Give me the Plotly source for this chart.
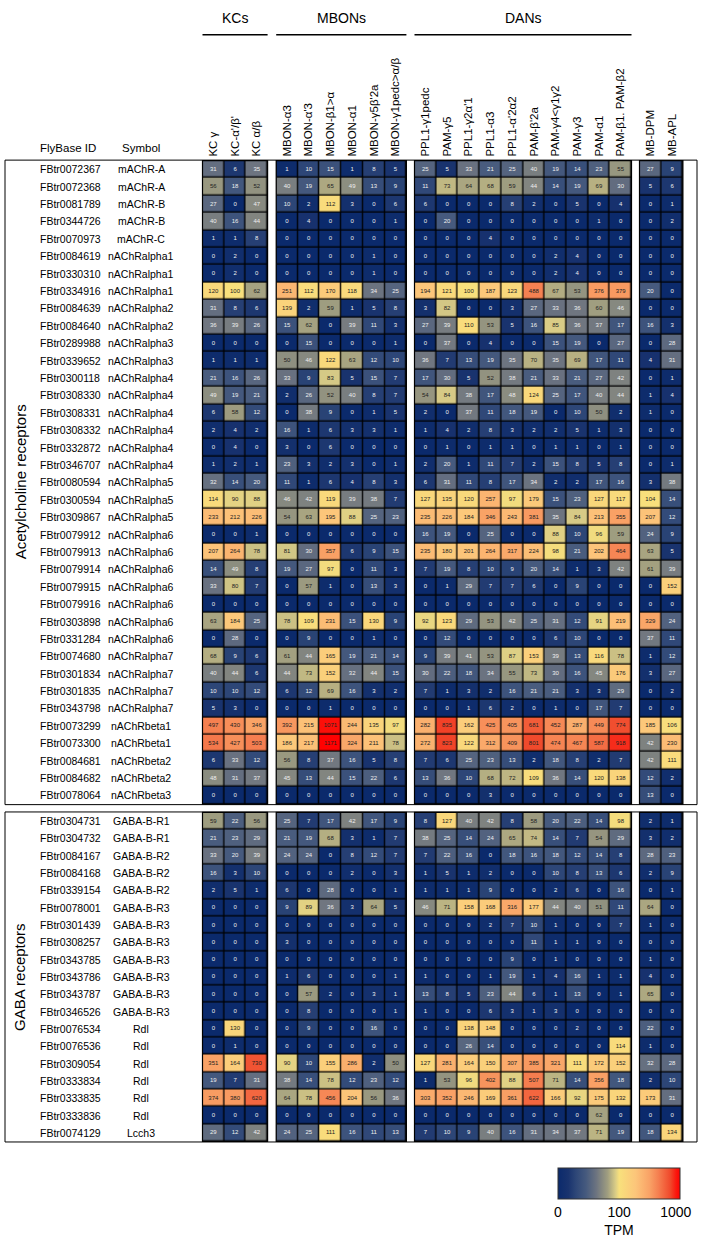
import plotly.graph_objects as go
import numpy as np

W, H = 708, 1248

kc_cols = ["KC γ", "KC-α'/β'", "KC α/β"]
mbon_cols = ["MBON-α3", "MBON-α'3", "MBON-β1>α", "MBON-α1", "MBON-γ5β'2a", "MBON-γ1pedc>α/β"]
dan_cols = ["PPL1-γ1pedc", "PAM-γ5", "PPL1-γ2α'1", "PPL1-α3", "PPL1-α'2α2", "PAM-β'2a",
            "PAM-γ4<γ1γ2", "PAM-γ3", "PAM-α1", "PAM-β1. PAM-β2"]
mb_cols = ["MB-DPM", "MB-APL"]
groups = [("KCs", kc_cols), ("MBONs", mbon_cols), ("DANs", dan_cols), ("", mb_cols)]

ach_ids = ["FBtr0072367", "FBtr0072368", "FBtr0081789", "FBtr0344726", "FBtr0070973", "FBtr0084619",
           "FBtr0330310", "FBtr0334916", "FBtr0084639", "FBtr0084640", "FBtr0289988", "FBtr0339652",
           "FBtr0300118", "FBtr0308330", "FBtr0308331", "FBtr0308332", "FBtr0332872", "FBtr0346707",
           "FBtr0080594", "FBtr0300594", "FBtr0309867", "FBtr0079912", "FBtr0079913", "FBtr0079914",
           "FBtr0079915", "FBtr0079916", "FBtr0303898", "FBtr0331284", "FBtr0074680", "FBtr0301834",
           "FBtr0301835", "FBtr0343798", "FBtr0073299", "FBtr0073300", "FBtr0084681", "FBtr0084682",
           "FBtr0078064"]
ach_sym = ["mAChR-A", "mAChR-A", "mAChR-B", "mAChR-B", "mAChR-C", "nAChRalpha1", "nAChRalpha1",
           "nAChRalpha1", "nAChRalpha2", "nAChRalpha2", "nAChRalpha3", "nAChRalpha3", "nAChRalpha4",
           "nAChRalpha4", "nAChRalpha4", "nAChRalpha4", "nAChRalpha4", "nAChRalpha4", "nAChRalpha5",
           "nAChRalpha5", "nAChRalpha5", "nAChRalpha6", "nAChRalpha6", "nAChRalpha6", "nAChRalpha6",
           "nAChRalpha6", "nAChRalpha6", "nAChRalpha6", "nAChRalpha7", "nAChRalpha7", "nAChRalpha7",
           "nAChRalpha7", "nAChRbeta1", "nAChRbeta1", "nAChRbeta2", "nAChRbeta2", "nAChRbeta3"]

# columns: 3 KC | 6 MBON | 10 DAN | 2 MB
ach_vals = [
    [31, 6, 35, 1, 10, 15, 1, 8, 5, 25, 5, 33, 21, 25, 40, 19, 14, 23, 55, 27, 9],
    [56, 18, 52, 40, 19, 65, 49, 13, 9, 11, 73, 64, 68, 59, 44, 14, 19, 69, 30, 5, 6],
    [27, 0, 47, 10, 2, 112, 3, 0, 6, 6, 0, 0, 0, 8, 2, 0, 5, 0, 4, 0, 1],
    [40, 16, 44, 0, 4, 0, 0, 0, 1, 0, 20, 0, 0, 0, 0, 0, 0, 1, 0, 0, 2],
    [1, 1, 8, 0, 0, 0, 0, 0, 0, 0, 0, 0, 4, 0, 0, 0, 0, 0, 0, 0, 0],
    [0, 2, 0, 0, 0, 0, 0, 1, 0, 0, 0, 0, 0, 0, 0, 2, 4, 0, 0, 0, 0],
    [0, 2, 0, 0, 0, 0, 0, 1, 0, 0, 0, 0, 0, 0, 0, 2, 4, 0, 0, 0, 0],
    [120, 100, 62, 251, 112, 170, 118, 34, 25, 194, 121, 100, 187, 123, 488, 67, 53, 376, 379, 20, 0],
    [31, 8, 6, 139, 2, 59, 1, 5, 8, 3, 82, 0, 0, 3, 27, 33, 36, 60, 46, 0, 0],
    [36, 39, 26, 15, 62, 0, 39, 11, 3, 27, 39, 110, 53, 5, 16, 85, 36, 37, 17, 16, 3],
    [0, 0, 0, 0, 15, 0, 0, 0, 1, 0, 37, 0, 4, 0, 0, 15, 19, 0, 27, 0, 28],
    [1, 1, 1, 50, 46, 122, 63, 12, 10, 36, 7, 13, 19, 35, 70, 35, 69, 17, 11, 4, 31],
    [21, 16, 26, 33, 9, 83, 5, 15, 7, 17, 30, 5, 52, 38, 21, 33, 21, 27, 42, 0, 1],
    [49, 19, 21, 2, 26, 52, 40, 8, 7, 54, 84, 38, 17, 48, 124, 25, 17, 40, 44, 1, 4],
    [6, 58, 12, 0, 38, 9, 0, 1, 5, 2, 0, 37, 11, 18, 19, 0, 10, 50, 2, 1, 0],
    [2, 4, 2, 16, 1, 6, 3, 3, 1, 1, 4, 2, 8, 3, 2, 2, 5, 1, 3, 0, 0],
    [0, 4, 0, 3, 0, 6, 0, 0, 0, 0, 1, 0, 1, 1, 0, 1, 1, 0, 1, 0, 0],
    [1, 2, 1, 23, 3, 2, 3, 0, 1, 2, 20, 1, 11, 7, 2, 15, 8, 5, 8, 0, 1],
    [32, 14, 20, 11, 1, 6, 4, 8, 3, 6, 31, 11, 8, 17, 34, 2, 2, 17, 16, 3, 38],
    [114, 90, 88, 46, 42, 119, 39, 38, 7, 127, 135, 120, 257, 97, 179, 15, 23, 127, 117, 104, 14],
    [233, 212, 226, 54, 63, 195, 88, 25, 23, 235, 226, 184, 346, 243, 381, 35, 84, 213, 355, 207, 12],
    [0, 0, 1, 0, 0, 0, 0, 0, 0, 16, 19, 0, 25, 0, 0, 88, 10, 96, 59, 24, 9],
    [207, 264, 78, 81, 30, 357, 6, 9, 15, 235, 180, 201, 264, 317, 224, 98, 21, 202, 464, 63, 5],
    [14, 49, 8, 19, 27, 97, 0, 11, 3, 7, 19, 8, 10, 9, 20, 14, 1, 3, 42, 61, 39],
    [33, 80, 7, 0, 57, 1, 0, 13, 3, 0, 1, 29, 7, 7, 6, 0, 9, 0, 0, 0, 152],
    [0, 0, 0, 0, 0, 0, 0, 0, 0, 0, 0, 0, 0, 0, 0, 0, 0, 0, 0, 0, 0],
    [63, 184, 25, 78, 109, 231, 15, 130, 9, 92, 123, 29, 53, 42, 25, 31, 12, 91, 219, 329, 24],
    [0, 28, 0, 0, 9, 0, 0, 1, 0, 0, 12, 0, 0, 0, 0, 6, 10, 0, 0, 37, 11],
    [68, 9, 6, 61, 44, 165, 19, 21, 14, 9, 39, 41, 53, 87, 153, 39, 13, 116, 78, 1, 12],
    [40, 44, 6, 44, 73, 152, 32, 44, 15, 30, 22, 18, 34, 55, 73, 30, 16, 45, 176, 3, 27],
    [10, 10, 12, 6, 12, 69, 16, 3, 2, 7, 1, 3, 2, 16, 21, 21, 3, 3, 29, 0, 2],
    [5, 3, 0, 0, 0, 1, 0, 0, 0, 0, 0, 1, 6, 2, 0, 1, 0, 17, 7, 0, 0],
    [497, 430, 346, 392, 215, 1071, 244, 135, 97, 282, 835, 162, 425, 405, 681, 452, 287, 449, 774, 185, 106],
    [534, 427, 503, 186, 217, 1171, 324, 211, 78, 272, 823, 122, 312, 409, 801, 474, 467, 587, 918, 42, 230],
    [6, 33, 12, 56, 8, 37, 16, 5, 8, 7, 6, 25, 23, 13, 2, 18, 8, 2, 7, 42, 111],
    [48, 31, 37, 45, 13, 44, 15, 22, 6, 13, 36, 10, 68, 72, 109, 36, 14, 120, 138, 12, 2],
    [0, 0, 0, 0, 0, 0, 0, 0, 0, 0, 0, 0, 3, 0, 0, 0, 0, 0, 0, 13, 0],
]

gaba_ids = ["FBtr0304731", "FBtr0304732", "FBtr0084167", "FBtr0084168", "FBtr0339154", "FBtr0078001",
            "FBtr0301439", "FBtr0308257", "FBtr0343785", "FBtr0343786", "FBtr0343787", "FBtr0346526",
            "FBtr0076534", "FBtr0076536", "FBtr0309054", "FBtr0333834", "FBtr0333835", "FBtr0333836",
            "FBtr0074129"]
gaba_sym = ["GABA-B-R1", "GABA-B-R1", "GABA-B-R2", "GABA-B-R2", "GABA-B-R2", "GABA-B-R3", "GABA-B-R3",
            "GABA-B-R3", "GABA-B-R3", "GABA-B-R3", "GABA-B-R3", "GABA-B-R3", "Rdl", "Rdl", "Rdl", "Rdl",
            "Rdl", "Rdl", "Lcch3"]
gaba_vals = [
    [59, 22, 56, 25, 7, 17, 42, 17, 9, 8, 127, 40, 42, 8, 58, 20, 22, 14, 98, 2, 1],
    [21, 23, 29, 21, 19, 68, 3, 1, 7, 38, 25, 14, 24, 65, 74, 14, 7, 54, 29, 3, 2],
    [33, 20, 39, 24, 24, 0, 8, 12, 7, 7, 22, 16, 0, 18, 16, 18, 12, 14, 8, 28, 23],
    [16, 3, 10, 0, 0, 0, 2, 0, 3, 1, 5, 1, 2, 0, 0, 10, 8, 13, 6, 2, 9],
    [2, 5, 1, 6, 0, 28, 0, 0, 1, 1, 1, 1, 9, 0, 0, 2, 6, 0, 16, 0, 1],
    [0, 0, 0, 9, 89, 36, 3, 64, 5, 46, 71, 158, 168, 316, 177, 44, 40, 51, 11, 64, 0],
    [0, 0, 0, 0, 0, 0, 0, 0, 0, 0, 0, 0, 2, 7, 10, 1, 0, 0, 7, 1, 0],
    [0, 0, 0, 3, 0, 0, 0, 0, 0, 0, 0, 0, 0, 0, 11, 1, 1, 0, 0, 0, 0],
    [0, 0, 0, 0, 0, 0, 0, 0, 0, 0, 0, 0, 0, 9, 0, 1, 0, 0, 0, 1, 0],
    [0, 0, 0, 1, 6, 0, 0, 0, 1, 1, 0, 0, 1, 19, 1, 4, 16, 1, 1, 4, 0],
    [0, 0, 0, 0, 57, 2, 0, 3, 1, 13, 8, 5, 23, 44, 6, 1, 13, 0, 1, 65, 0],
    [0, 0, 0, 0, 8, 0, 0, 0, 1, 1, 0, 0, 6, 3, 1, 3, 0, 0, 0, 0, 0],
    [0, 130, 0, 0, 9, 0, 0, 16, 0, 0, 0, 138, 148, 0, 0, 0, 2, 0, 0, 22, 0],
    [0, 1, 0, 0, 0, 0, 0, 0, 0, 0, 0, 26, 14, 0, 0, 0, 0, 0, 114, 1, 0],
    [351, 164, 730, 90, 10, 155, 286, 2, 50, 127, 281, 164, 150, 307, 385, 321, 111, 172, 152, 32, 28],
    [19, 7, 31, 38, 14, 78, 12, 23, 12, 1, 53, 96, 402, 88, 507, 71, 14, 356, 18, 2, 10],
    [374, 380, 620, 64, 78, 456, 204, 56, 36, 303, 352, 246, 169, 361, 622, 166, 92, 175, 132, 173, 31],
    [0, 0, 0, 0, 0, 0, 0, 0, 0, 0, 0, 0, 0, 0, 0, 0, 0, 62, 0, 0, 0],
    [29, 12, 42, 24, 25, 111, 16, 11, 13, 7, 10, 9, 40, 16, 31, 34, 37, 71, 19, 18, 134],
]

tick_vals_tpm = [0, 100, 1000]
tick_text_tpm = ["0", "100", "1000"]


def tr(v):
    return np.log10(np.asarray(v, dtype=float) + 10.0)


def px(x):
    return x / W


def py(y):
    return 1 - y / H


FONT = "Arial, Liberation Sans, sans-serif"

# pixel geometry
x_dom_px = [(202.5, 267.6), (276.2, 406.4), (414.5, 631.5), (639.5, 682.9)]
ach_px = (162.3, 812.6)
gaba_px = (821.0, 1153.5)

cmin = float(tr(0))
cmax = float(tr(1180))
stops = [(0, "#0b2a6c"), (5, "#19336e"), (10, "#2d4677"), (20, "#465a7e"), (35, "#6d7480"),
         (60, "#a09e80"), (85, "#d9cc86"), (100, "#f8e07c"), (200, "#fcc57a"), (350, "#f9a266"),
         (500, "#f57f50"), (800, "#f04a2c"), (1000, "#fa1a10"), (1180, "#ff0000")]
colorscale = [[(float(tr(v)) - cmin) / (cmax - cmin), c] for v, c in stops]

fig = go.Figure()

blocks = [("y", ach_ids, np.array(ach_vals)), ("y2", gaba_ids, np.array(gaba_vals))]
col_start = [0, 3, 9, 19]
for yax, ids, vals in blocks:
    for gi, (gname, cols) in enumerate(groups):
        xa = "x" if gi == 0 else f"x{gi + 1}"
        sub = vals[:, col_start[gi]:col_start[gi] + len(cols)]
        fig.add_trace(go.Heatmap(
            z=tr(sub), x=cols, y=ids, text=sub.astype(int).astype(str),
            xgap=1.3, ygap=1.3, coloraxis="coloraxis", xaxis=xa, yaxis=yax,
            hovertemplate="%{y} %{x}: %{text}<extra></extra>"))
        xs, ys, ts, cs = [], [], [], []
        for ri, fid in enumerate(ids):
            for ci, c in enumerate(cols):
                v = int(sub[ri, ci])
                xs.append(c)
                ys.append(fid)
                ts.append(str(v))
                cs.append("#222222" if v >= 50 else "#eeeeee")
        fig.add_trace(go.Scatter(x=xs, y=ys, text=ts, mode="text", xaxis=xa, yaxis=yax,
                                 textfont=dict(size=6, family=FONT, color=cs),
                                 hoverinfo="skip", showlegend=False))

layout = dict(
    width=W, height=H, margin=dict(l=0, r=0, t=0, b=0),
    paper_bgcolor="white", plot_bgcolor="black", font=dict(family=FONT, color="black"),
    showlegend=False,
    coloraxis=dict(
        colorscale=colorscale, cmin=cmin, cmax=cmax,
        colorbar=dict(orientation="h", x=px(619), xanchor="center", y=py(1170), yanchor="top",
                      len=142, lenmode="pixels", thickness=31, thicknessmode="pixels",
                      tickvals=[float(tr(v)) for v in tick_vals_tpm], ticktext=tick_text_tpm,
                      ticks="", tickfont=dict(size=14, family=FONT),
                      title=dict(text="TPM", side="bottom", font=dict(size=14, family=FONT)),
                      outlinewidth=1, outlinecolor="#333")),
)
for gi, (gname, cols) in enumerate(groups):
    key = "xaxis" if gi == 0 else f"xaxis{gi + 1}"
    x0, x1 = x_dom_px[gi]
    layout[key] = dict(domain=[px(x0), px(x1)], type="category", categoryarray=cols,
                       categoryorder="array", range=[-0.5, len(cols) - 0.5], side="top",
                       anchor="y", tickangle=-90, showgrid=False, zeroline=False, ticks="",
                       tickfont=dict(size=11.5, family=FONT), ticklabelstandoff=3)
for key, ids, (y0, y1) in [("yaxis", ach_ids, ach_px), ("yaxis2", gaba_ids, gaba_px)]:
    layout[key] = dict(domain=[py(y1), py(y0)], type="category", categoryarray=ids,
                       categoryorder="array", range=[len(ids) - 0.5, -0.5], showticklabels=False,
                       showgrid=False, zeroline=False, ticks="", anchor="x")
fig.update_layout(**layout)

shapes = []
annotations = []
# block outlines
for gi in range(4):
    xr = "x" if gi == 0 else f"x{gi + 1}"
    for yr in ["y", "y2"]:
        shapes.append(dict(type="rect", xref=f"{xr} domain", yref=f"{yr} domain", x0=0, x1=1, y0=0, y1=1,
                           line=dict(color="black", width=1.2)))
# section frames
for (y0, y1) in [ach_px, gaba_px]:
    shapes.append(dict(type="rect", xref="paper", yref="paper", x0=px(5), x1=px(697), y0=py(y1 + 0.5),
                       y1=py(y0 - 0.5), line=dict(color="black", width=1)))
# group header lines and labels
for gi, (gname, cols) in enumerate(groups):
    if not gname:
        continue
    xr = "x" if gi == 0 else f"x{gi + 1}"
    shapes.append(dict(type="line", xref=f"{xr} domain", yref="paper", x0=0, x1=1, y0=py(35), y1=py(35),
                       line=dict(color="black", width=1.5)))
    annotations.append(dict(text=gname, xref=f"{xr} domain", yref="paper", x=0.5, y=py(28),
                            xanchor="center", yanchor="bottom", showarrow=False,
                            font=dict(size=14, family=FONT)))

# row labels
for yr, ids, syms in [("y", ach_ids, ach_sym), ("y2", gaba_ids, gaba_sym)]:
    for fid, s in zip(ids, syms):
        annotations.append(dict(text=fid, xref="paper", yref=yr, x=px(38), y=fid, xanchor="left",
                                yanchor="middle", showarrow=False, font=dict(size=10.5, family=FONT)))
        annotations.append(dict(text=s, xref="paper", yref=yr, x=px(141), y=fid, xanchor="center",
                                yanchor="middle", showarrow=False, font=dict(size=10.5, family=FONT)))

annotations.append(dict(text="FlyBase ID", xref="paper", yref="paper", x=px(68), y=py(158),
                        xanchor="center", yanchor="bottom", showarrow=False, font=dict(size=11.5)))
annotations.append(dict(text="Symbol", xref="paper", yref="paper", x=px(141), y=py(158),
                        xanchor="center", yanchor="bottom", showarrow=False, font=dict(size=11.5)))
annotations.append(dict(text="Acetylcholine receptors", xref="paper", yref="paper", x=px(20),
                        y=py((ach_px[0] + ach_px[1]) / 2), xanchor="center", yanchor="middle",
                        textangle=-90, showarrow=False, font=dict(size=15)))
annotations.append(dict(text="GABA receptors", xref="paper", yref="paper", x=px(20),
                        y=py((gaba_px[0] + gaba_px[1]) / 2), xanchor="center", yanchor="middle",
                        textangle=-90, showarrow=False, font=dict(size=15)))

fig.update_layout(shapes=shapes, annotations=annotations)
fig.write_html("out.html", config={"displayModeBar": False},
               post_script="document.body.style.margin='0px';document.body.style.overflow='hidden';")
